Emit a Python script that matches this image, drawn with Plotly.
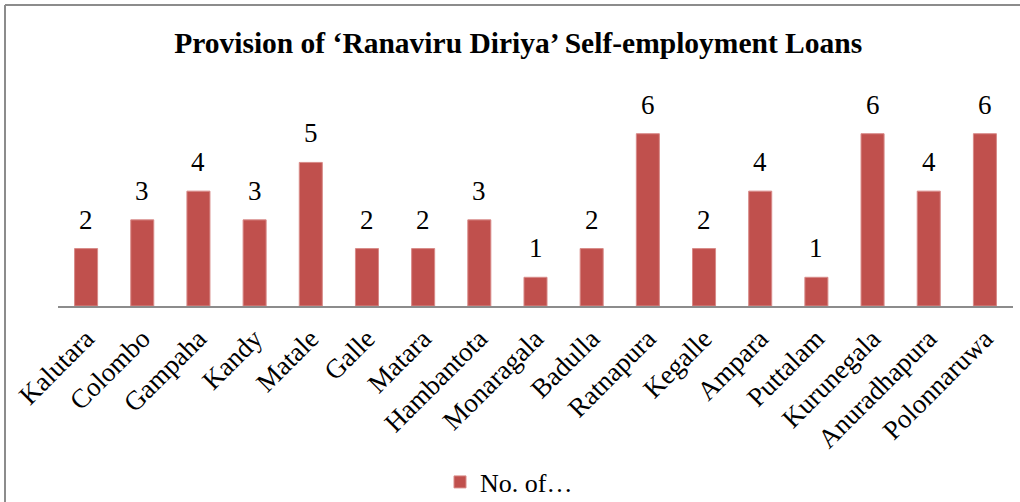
import plotly.graph_objects as go

districts = ["Kalutara", "Colombo", "Gampaha", "Kandy", "Matale", "Galle", "Matara",
             "Hambantota", "Monaragala", "Badulla", "Ratnapura", "Kegalle", "Ampara",
             "Puttalam", "Kurunegala", "Anuradhapura", "Polonnaruwa"]
loans = [2, 3, 4, 3, 5, 2, 2, 3, 1, 2, 6, 2, 4, 1, 6, 4, 6]

serif = "Times New Roman, Liberation Serif, serif"
W, H = 1020, 502
L, R, T, B = 58, 7, 105, 196

fig = go.Figure()
fig.add_trace(go.Bar(
    x=districts,
    y=loans,
    name="No. of…",
    marker=dict(color="#C0504D", line=dict(color="#D88A88", width=1)),
))

# value labels above the bars
for d, v in zip(districts, loans):
    fig.add_annotation(x=d, y=v, text=str(v), showarrow=False, yanchor="bottom",
                       yshift=12, font=dict(family=serif, size=27, color="black"))

# chart frame (only top and left edges are visible in the crop)
pw, ph = W - L - R, H - T - B
x0 = (5 - L) / pw
y0 = (H - B - 5) / ph
fig.add_shape(type="line", xref="paper", yref="paper", x0=x0, x1=1.2, y0=y0, y1=y0,
              line=dict(color="#8C8C8C", width=2))
fig.add_shape(type="line", xref="paper", yref="paper", x0=x0, x1=x0, y0=y0, y1=-2,
              line=dict(color="#8C8C8C", width=2))

fig.update_layout(
    width=W, height=H,
    margin=dict(l=L, r=R, t=T, b=B),
    paper_bgcolor="white", plot_bgcolor="white",
    font=dict(family=serif, size=27, color="black"),
    title=dict(text="<b>Provision of ‘Ranaviru Diriya’ Self-employment Loans</b>",
               x=0.508, xanchor="center", y=1 - 43 / H, yanchor="middle",
               font=dict(family=serif, size=29.5, color="black")),
    bargap=0.59,
    showlegend=True,
    legend=dict(orientation="h", xref="container", x=509 / W, xanchor="center",
                yref="container", y=1 - 482 / H, yanchor="middle",
                font=dict(family=serif, size=26)),
)
fig.update_xaxes(showline=True, linecolor="#8C8C8C", linewidth=2, ticks="",
                 tickangle=-45, ticklabelstandoff=4, automargin=False,
                 tickfont=dict(family=serif, size=27), showgrid=False)
fig.update_yaxes(range=[0, 7], visible=False, automargin=False)

fig.write_html("out.html", config={"displayModeBar": False},
               post_script="document.body.style.margin='0';")
